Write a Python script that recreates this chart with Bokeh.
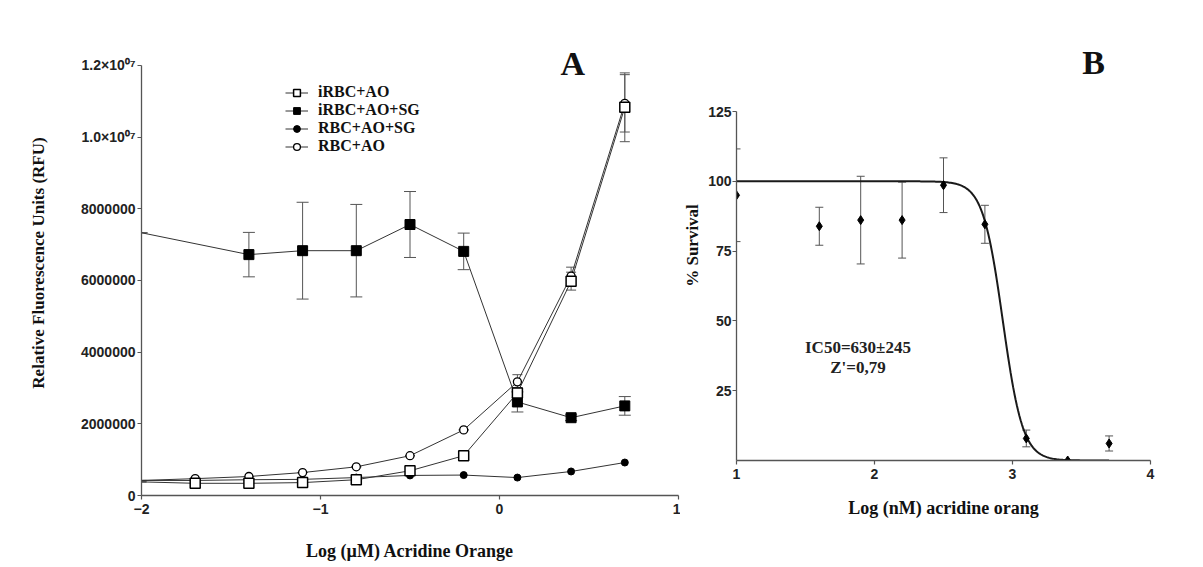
from bokeh.plotting import figure
from bokeh.models import (Range1d, FixedTicker, CustomJSTickFormatter, Whisker, TeeHead,
                          ColumnDataSource, Legend, LegendItem, Label)
from bokeh.layouts import row
from bokeh.embed import file_html
from bokeh.resources import INLINE

# ---------------- Panel A data (Log uM acridine orange vs RFU) ----------------
log_um = [-2.0, -1.7, -1.4, -1.1, -0.8, -0.5, -0.2, 0.1, 0.4, 0.7]
irbc_ao = [380000, 340000, 340000, 360000, 440000, 690000, 1110000, 2860000, 5980000, 10830000]
irbc_ao_sd = [0, 0, 0, 0, 0, 0, 50000, 150000, 250000, 960000]
rbc_ao = [420000, 470000, 530000, 640000, 800000, 1110000, 1830000, 3170000, 6120000, 10940000]
rbc_ao_sd = [0, 0, 0, 0, 0, 0, 0, 200000, 250000, 800000]
rbc_ao_sg = [420000, 420000, 440000, 450000, 500000, 560000, 570000, 500000, 670000, 920000]

log_um_sg = [-2.0, -1.4, -1.1, -0.8, -0.5, -0.2, 0.1, 0.4, 0.7]
irbc_ao_sg = [7330000, 6720000, 6830000, 6830000, 7560000, 6810000, 2610000, 2170000, 2500000]
irbc_ao_sg_sd = [0, 620000, 1350000, 1290000, 920000, 510000, 280000, 80000, 260000]

a_xticks = [-2, -1, 0, 1]
a_yticks = [0, 2000000, 4000000, 6000000, 8000000, 10000000, 12000000]
a_ymax = 12000000

# ---------------- Panel B data (Log nM acridine orange vs % survival) ----------------
log_nm = [1.0, 1.6, 1.9, 2.2, 2.5, 2.8, 3.1, 3.4, 3.7]
survival = [95.0, 83.9, 86.1, 86.1, 98.6, 84.6, 7.9, 0.0, 6.1]
survival_sd = [16.6, 6.8, 15.7, 13.6, 9.8, 6.8, 3.0, 0.0, 2.7]
# fitted sigmoid (4-parameter logistic) parameters
fit_top, fit_bottom, fit_log_mid, fit_hill = 100.0, 0.0, 2.93, 6.0
fit_x_start, fit_x_end = 1.0, 3.7

b_xticks = [1, 2, 3, 4]
b_yticks = [25, 50, 75, 100, 125]
b_ymax = 125

SERIF = "Liberation Serif"
SANS = "Liberation Sans"
LINE = "#333333"
AXIS = "#555555"

FIG_H = 563
TOP = 30
# panel A frame: 30..497 px, axis 0..1.2e7 spans 432 px
A_BOTTOM = 66
a_top = a_ymax * (FIG_H - TOP - A_BOTTOM) / 432.0
# panel B frame: 30..460 px, axis 0..125 spans 349 px
B_BOTTOM = 103
b_top = b_ymax * (FIG_H - TOP - B_BOTTOM) / 349.0


def style(p):
    p.grid.visible = False
    p.outline_line_color = None
    p.background_fill_color = "white"
    p.border_fill_color = "white"
    for ax in p.axis:
        ax.axis_line_color = AXIS
        ax.axis_line_width = 1.3
        ax.major_tick_line_color = AXIS
        ax.major_tick_line_width = 1.2
        ax.major_tick_out = 4
        ax.major_tick_in = 0
        ax.minor_tick_line_color = None
        ax.major_label_text_font = SANS
        ax.major_label_text_font_style = "bold"
        ax.major_label_text_font_size = "14px"
        ax.major_label_text_color = "#222222"
        ax.major_label_standoff = 2
        ax.axis_label_text_font = SERIF
        ax.axis_label_text_font_style = "bold"
        ax.axis_label_text_color = "#111111"


# ================= Panel A =================
pa = figure(width=680, height=FIG_H, x_range=Range1d(-2, 1), y_range=Range1d(0, a_top),
            output_backend="svg", toolbar_location=None, frame_align=False,
            min_border_left=141, min_border_right=2,
            min_border_top=TOP, min_border_bottom=A_BOTTOM)
style(pa)
pa.xaxis.ticker = FixedTicker(ticks=a_xticks)
pa.yaxis.ticker = FixedTicker(ticks=a_yticks)
pa.yaxis.bounds = (0, a_ymax)
pa.yaxis.formatter = CustomJSTickFormatter(code="""
    if (tick >= 1e7) { return (tick / 1e7).toFixed(1) + '\u00d710\u2070\u2077'; }
    return tick.toFixed(0);
""")
pa.xaxis.axis_label = "Log (\u00b5M) Acridine Orange"
pa.xaxis.axis_label_text_font_size = "18px"
pa.xaxis.axis_label_standoff = 24
pa.xaxis.major_label_standoff = 4
pa.yaxis.axis_label = "Relative Fluorescence Units (RFU)"
pa.yaxis.axis_label_text_font_size = "17px"
pa.yaxis.axis_label_standoff = 30

src_main = ColumnDataSource(dict(
    x=log_um, iao=irbc_ao, iao_lo=[v - s for v, s in zip(irbc_ao, irbc_ao_sd)],
    iao_hi=[v + s for v, s in zip(irbc_ao, irbc_ao_sd)],
    rao=rbc_ao, rao_lo=[v - s for v, s in zip(rbc_ao, rbc_ao_sd)],
    rao_hi=[v + s for v, s in zip(rbc_ao, rbc_ao_sd)],
    rsg=rbc_ao_sg))
src_sg = ColumnDataSource(dict(
    x=log_um_sg, y=irbc_ao_sg,
    lo=[v - s for v, s in zip(irbc_ao_sg, irbc_ao_sg_sd)],
    hi=[v + s for v, s in zip(irbc_ao_sg, irbc_ao_sg_sd)]))
# marker sources: the first point sits on the axis and is drawn as line only
mk_main = ColumnDataSource(dict(x=log_um[1:], iao=irbc_ao[1:], rao=rbc_ao[1:], rsg=rbc_ao_sg[1:]))
mk_sg = ColumnDataSource(dict(x=log_um_sg[1:], y=irbc_ao_sg[1:]))

l_iao = pa.line("x", "iao", source=src_main, line_color=LINE, line_width=1)
l_isg = pa.line("x", "y", source=src_sg, line_color=LINE, line_width=1)
l_rsg = pa.line("x", "rsg", source=src_main, line_color=LINE, line_width=1)
l_rao = pa.line("x", "rao", source=src_main, line_color=LINE, line_width=1)

for lo, hi, src, w in [("lo", "hi", src_sg, 12), ("iao_lo", "iao_hi", src_main, 10),
                       ("rao_lo", "rao_hi", src_main, 10)]:
    pa.add_layout(Whisker(base="x", lower=lo, upper=hi, source=src, line_color="#555555",
                          line_width=1,
                          lower_head=TeeHead(size=w, line_color="#555555", line_width=1),
                          upper_head=TeeHead(size=w, line_color="#555555", line_width=1)))

m_isg = pa.scatter("x", "y", source=mk_sg, marker="square", size=10,
                   fill_color="black", line_color="black")
m_rsg = pa.scatter("x", "rsg", source=mk_main, marker="circle", size=7,
                   fill_color="black", line_color="black")
m_rao = pa.scatter("x", "rao", source=mk_main, marker="circle", size=8,
                   fill_color="white", line_color="black", line_width=1.3)
m_iao = pa.scatter("x", "iao", source=mk_main, marker="square", size=10,
                   fill_color="white", line_color="black", line_width=1.5)

legend = Legend(items=[
    LegendItem(label="iRBC+AO", renderers=[l_iao, m_iao]),
    LegendItem(label="iRBC+AO+SG", renderers=[l_isg, m_isg]),
    LegendItem(label="RBC+AO+SG", renderers=[l_rsg, m_rsg]),
    LegendItem(label="RBC+AO", renderers=[l_rao, m_rao]),
], location=(144, 340), orientation="vertical", border_line_color=None,
    background_fill_alpha=0, padding=0, margin=0, spacing=0,
    glyph_width=23, glyph_height=17, label_height=17, label_standoff=10,
    label_text_font=SERIF, label_text_font_style="bold", label_text_font_size="16px",
    label_text_color="#111111")
pa.add_layout(legend)

pa.add_layout(Label(x=0.41, y=12060000, text="A", text_align="center", text_baseline="middle",
                    text_font=SERIF, text_font_style="bold", text_font_size="34px",
                    text_color="#111111"))

# ================= Panel B =================
pb = figure(width=515, height=FIG_H, x_range=Range1d(1, 4), y_range=Range1d(0, b_top),
            output_backend="svg", toolbar_location=None, frame_align=False,
            min_border_left=56, min_border_right=45,
            min_border_top=TOP, min_border_bottom=B_BOTTOM)
style(pb)
pb.xaxis.ticker = FixedTicker(ticks=b_xticks)
pb.yaxis.ticker = FixedTicker(ticks=b_yticks)
pb.yaxis.bounds = (0, b_ymax)
pb.yaxis.major_label_standoff = 1
pb.xaxis.axis_label = "Log (nM) acridine orang"
pb.xaxis.axis_label_text_font_size = "18px"
pb.xaxis.axis_label_standoff = 16
pb.xaxis.major_label_standoff = 4
pb.yaxis.axis_label = "% Survival"
pb.yaxis.axis_label_text_font_size = "17px"
pb.yaxis.axis_label_standoff = 3

n_fit = 300
fit_x = [fit_x_start + (fit_x_end - fit_x_start) * i / (n_fit - 1) for i in range(n_fit)]
fit_y = [fit_bottom + (fit_top - fit_bottom) / (1 + 10 ** ((x - fit_log_mid) * fit_hill))
         for x in fit_x]
pb.line(fit_x, fit_y, line_color="#1a1a1a", line_width=2)

src_b = ColumnDataSource(dict(x=log_nm, y=survival,
                              lo=[v - s for v, s in zip(survival, survival_sd)],
                              hi=[v + s for v, s in zip(survival, survival_sd)]))
pb.add_layout(Whisker(base="x", lower="lo", upper="hi", source=src_b, line_color="#555555",
                      line_width=1,
                      lower_head=TeeHead(size=8, line_color="#555555", line_width=1),
                      upper_head=TeeHead(size=8, line_color="#555555", line_width=1)))
pb.scatter("x", "y", source=src_b, marker="diamond", size=9, fill_color="black",
           line_color="black")

for txt, yy in [("IC50=630\u00b1245", 40.5), ("Z'=0,79", 33.3)]:
    pb.add_layout(Label(x=1.88, y=yy, text=txt, text_align="center", text_baseline="middle",
                        text_font=SERIF, text_font_style="bold", text_font_size="17px",
                        text_color="#222222"))

pb.add_layout(Label(x=3.587, y=142.5, text="B", text_align="center", text_baseline="middle",
                    text_font=SERIF, text_font_style="bold", text_font_size="34px",
                    text_color="#111111"))

layout = row(pa, pb)
open("out.html", "w").write(file_html(layout, INLINE))
